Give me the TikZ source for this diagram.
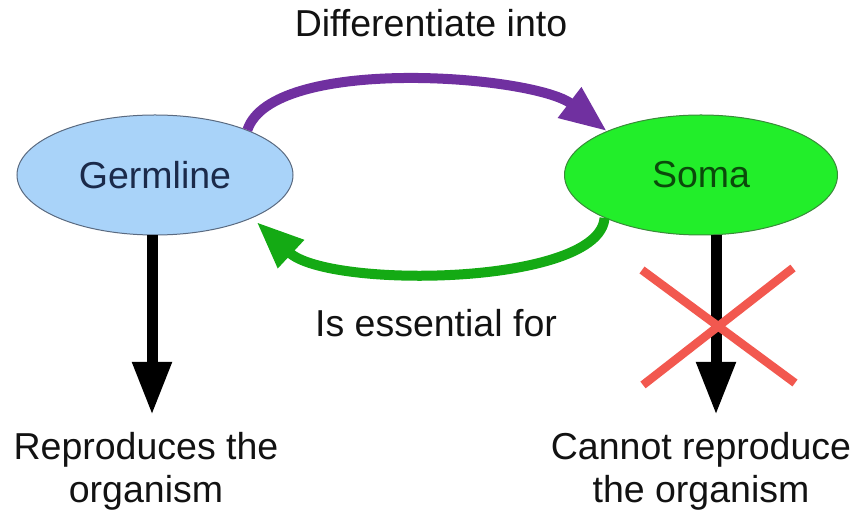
\documentclass[tikz,border=0pt]{standalone}
\usepackage{fontspec}
\setmainfont{Liberation Sans}
\usetikzlibrary{shapes.geometric,arrows.meta}
\definecolor{germfill}{HTML}{A9D3F9}
\definecolor{germline}{HTML}{5A6A80}
\definecolor{germtext}{HTML}{1B2A4A}
\definecolor{somafill}{HTML}{22EE2A}
\definecolor{somaline}{HTML}{3A8A3A}
\definecolor{somatext}{HTML}{0B4A0B}
\definecolor{purp}{HTML}{7030A0}
\definecolor{grn}{HTML}{14AA14}
\definecolor{redx}{HTML}{F2584F}
\begin{document}
\begin{tikzpicture}[x=1pt,y=1pt,
  lbl/.style={font=\fontsize{37.5}{43}\selectfont, inner sep=0pt, text=black!93},
  cell/.style={ellipse, draw, line width=1pt, inner sep=0pt, minimum height=120pt,
    font=\fontsize{37.5}{43}\selectfont},
  curvearrow/.style={line width=10pt, -{Triangle[length=47pt,width=36pt]}},
  downarrow/.style={line width=11pt, black, -{Triangle[length=53pt,width=37pt]}},
  cross/.style={line width=8.5pt, redx}]
\useasboundingbox (0,0) rectangle (859,511);
\node[cell, fill=germfill, draw=germline, text=germtext, minimum width=276pt] (g) at (155,336) {Germline};
\node[cell, fill=somafill, draw=somaline, text=somatext, minimum width=273pt] (s) at (701,336) {Soma};
% curved arrows
\draw[curvearrow, purp] (g.26) .. controls +(25,75) and +(-73,56) .. (s.155);
\coordinate (gt) at ([shift={(7,-3)}]g.335);
\draw[curvearrow, grn] (s.204) .. controls +(-5,-68) and +(72,-67) .. (gt);
% down arrows
\coordinate (ge) at (152,96);
\coordinate (se) at (716,96);
\draw[downarrow] (g.south -| ge) -- (ge);
\draw[downarrow] (s.south -| se) -- (se);
% red cross
\coordinate (x1) at (642,241);
\coordinate (x2) at (795,128);
\coordinate (x3) at (793,243);
\coordinate (x4) at (643,126);
\draw[cross] (x1) -- (x2);
\draw[cross] (x3) -- (x4);
% labels
\node[lbl, anchor=base] (t1) at (431,474) {Differentiate into};
\node[lbl, anchor=base] (t2) at (436,174) {Is essential for};
\node[lbl, anchor=base, align=center] (t3) at (146,8) {Reproduces the\\organism};
\node[lbl, anchor=base, align=center] (t4) at (701,8) {Cannot reproduce\\the organism};
\end{tikzpicture}
\end{document}
